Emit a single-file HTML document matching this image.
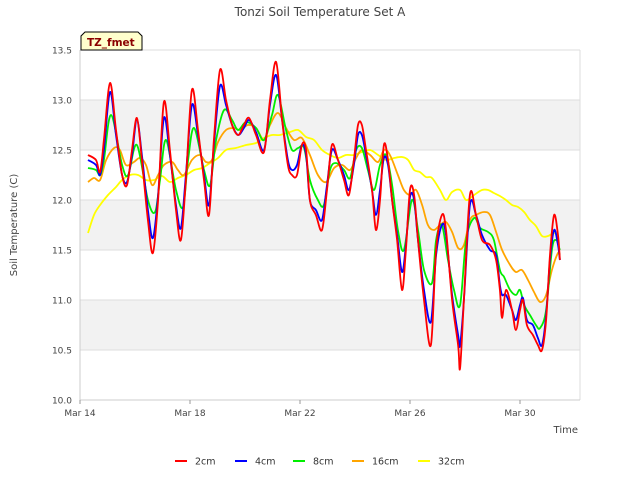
<!DOCTYPE html>
<html><head><meta charset="utf-8"><style>
body{margin:0;background:#fff;font-family:"Liberation Sans","DejaVu Sans",sans-serif}
svg text{font-family:"DejaVu Sans","Liberation Sans",sans-serif}
</style></head><body>
<svg id="chart" width="640" height="480" viewBox="0 0 640 480">
<text x="320" y="16" text-anchor="middle" font-size="12" fill="#444">Tonzi Soil Temperature Set A</text>
<g id="grid"></g>
<g id="axes"></g>
<g id="series"></g>
<g>
<path d="M81,50 L81,36 L85,32 L138,32 L142,36 L142,50 Z" fill="#ffffcc" stroke="#000" stroke-width="1"/>
<text x="87" y="46" font-size="10.5" font-weight="bold" fill="#8b0000">TZ_fmet</text>
</g>
<text transform="translate(17,225) rotate(-90)" text-anchor="middle" font-size="10" fill="#444">Soil Temperature (C)</text>
<text x="578" y="433" text-anchor="end" font-size="10" fill="#444">Time</text>
<g id="legend"></g>
</svg>
<script>
const xTickLabels=["Mar 14","Mar 18","Mar 22","Mar 26","Mar 30"];
const xTickDays=[0,4,8,12,16];
const yTicks=[10.0,10.5,11.0,11.5,12.0,12.5,13.0,13.5];
const seriesNames=["2cm","4cm","8cm","16cm","32cm"];
const seriesColors=["#ff0000","#0000ff","#00ee00","#ffa500","#ffff00"];
const t2=[0.29,0.58,0.73,0.87,1.09,1.31,1.53,1.71,1.89,2.07,2.25,2.47,2.65,2.84,3.05,3.27,3.49,3.67,3.85,4.07,4.29,4.51,4.69,4.87,5.09,5.31,5.53,5.75,5.96,6.15,6.4,6.69,6.91,7.13,7.35,7.56,7.71,7.89,8.07,8.22,8.36,8.58,8.8,8.98,9.16,9.38,9.6,9.78,9.96,10.11,10.25,10.4,10.62,10.76,10.91,11.05,11.2,11.35,11.53,11.71,11.85,12,12.15,12.29,12.51,12.76,12.95,13.16,13.31,13.53,13.75,13.82,13.96,14.18,14.4,14.62,14.91,15.13,15.27,15.35,15.49,15.71,15.85,16,16.11,16.25,16.47,16.65,16.8,16.95,17.09,17.24,17.38,17.45];
const v2=[12.45,12.4,12.28,12.6,13.17,12.7,12.25,12.15,12.5,12.82,12.4,11.8,11.47,12.0,12.98,12.5,11.9,11.6,12.2,13.1,12.7,12.2,11.85,12.6,13.3,13.0,12.75,12.65,12.75,12.82,12.65,12.48,13.0,13.38,12.8,12.35,12.25,12.25,12.55,12.5,12.0,11.85,11.7,12.1,12.55,12.4,12.2,12.05,12.4,12.75,12.75,12.5,12.1,11.7,12.0,12.55,12.4,12.0,11.6,11.1,11.5,12.1,12.05,11.6,11.0,10.55,11.5,11.85,11.7,11.0,10.55,10.32,11.0,12.05,11.85,11.6,11.55,11.4,11.1,10.82,11.1,10.9,10.7,10.9,11.0,10.75,10.65,10.55,10.5,10.8,11.45,11.85,11.65,11.4];
const t4=[0.29,0.58,0.73,0.87,1.09,1.31,1.53,1.71,1.89,2.07,2.25,2.47,2.65,2.84,3.05,3.27,3.49,3.67,3.85,4.07,4.29,4.51,4.69,4.87,5.09,5.31,5.53,5.75,5.96,6.15,6.4,6.69,6.91,7.13,7.35,7.56,7.71,7.89,8.07,8.22,8.36,8.58,8.8,8.98,9.16,9.38,9.6,9.78,9.96,10.11,10.25,10.4,10.62,10.76,10.91,11.05,11.2,11.35,11.53,11.71,11.85,12.0,12.15,12.29,12.51,12.76,12.95,13.16,13.31,13.53,13.75,13.82,13.96,14.18,14.4,14.62,14.91,15.13,15.27,15.35,15.49,15.71,15.85,16.0,16.11,16.25,16.47,16.65,16.8,16.95,17.09,17.24,17.38,17.45];
const v4=[12.4,12.35,12.25,12.5,13.08,12.65,12.25,12.18,12.45,12.8,12.45,11.9,11.62,12.05,12.82,12.45,11.95,11.72,12.25,12.95,12.65,12.25,11.95,12.55,13.14,12.95,12.75,12.65,12.72,12.8,12.68,12.5,12.95,13.25,12.8,12.4,12.3,12.35,12.55,12.45,12.0,11.9,11.8,12.15,12.5,12.4,12.25,12.1,12.35,12.65,12.65,12.45,12.1,11.85,12.1,12.42,12.35,12.0,11.65,11.28,11.55,12.03,12.0,11.6,11.1,10.78,11.45,11.75,11.65,11.05,10.65,10.55,11.0,11.95,11.85,11.65,11.5,11.45,11.15,11.05,11.05,10.9,10.8,10.95,11.02,10.8,10.75,10.62,10.55,10.85,11.4,11.7,11.55,11.4];
const t8=[0.29,0.58,0.73,0.87,1.13,1.53,1.75,2.07,2.47,2.73,2.91,3.13,3.49,3.75,3.93,4.15,4.51,4.73,4.95,5.24,5.53,5.75,6.04,6.4,6.69,6.98,7.2,7.49,7.71,7.93,8.15,8.36,8.65,8.87,9.09,9.31,9.6,9.82,10.04,10.25,10.47,10.69,10.91,11.13,11.35,11.56,11.78,12.07,12.29,12.51,12.8,12.95,13.16,13.38,13.6,13.82,14.04,14.33,14.55,14.84,15.05,15.27,15.42,15.64,15.85,16.0,16.15,16.36,16.58,16.73,16.95,17.16,17.31,17.45];
const v8=[12.32,12.3,12.25,12.4,12.85,12.35,12.25,12.55,12.0,11.88,12.2,12.6,12.1,11.93,12.4,12.72,12.3,12.15,12.6,12.9,12.8,12.7,12.78,12.72,12.6,12.85,13.05,12.7,12.5,12.52,12.52,12.2,12.0,11.95,12.3,12.37,12.3,12.22,12.5,12.52,12.3,12.1,12.35,12.45,12.15,11.7,11.5,12.0,11.7,11.3,11.17,11.6,11.75,11.4,11.1,10.95,11.6,11.82,11.72,11.68,11.6,11.3,11.23,11.1,11.05,11.1,10.95,10.85,10.75,10.72,10.9,11.5,11.6,11.5];
const t16=[0.29,0.51,0.73,0.95,1.24,1.45,1.67,1.96,2.18,2.4,2.62,2.84,3.05,3.35,3.56,3.78,4.07,4.36,4.58,4.8,5.02,5.31,5.6,5.82,6.11,6.4,6.69,6.91,7.2,7.49,7.78,8.07,8.36,8.65,8.95,9.24,9.53,9.82,10.04,10.25,10.55,10.84,11.05,11.27,11.56,11.78,12.0,12.22,12.44,12.65,12.87,13.09,13.31,13.53,13.75,13.96,14.18,14.4,14.69,14.91,15.13,15.35,15.64,15.85,16.07,16.29,16.51,16.73,16.95,17.16,17.38,17.45];
const v16=[12.18,12.22,12.2,12.4,12.52,12.5,12.35,12.38,12.42,12.35,12.15,12.25,12.35,12.38,12.3,12.25,12.4,12.45,12.38,12.4,12.58,12.7,12.72,12.7,12.75,12.72,12.6,12.75,12.87,12.72,12.6,12.62,12.45,12.25,12.18,12.32,12.35,12.3,12.42,12.5,12.45,12.38,12.5,12.45,12.25,12.1,12.05,12.1,11.95,11.75,11.7,11.75,11.78,11.68,11.52,11.55,11.8,11.85,11.88,11.85,11.68,11.5,11.35,11.28,11.3,11.2,11.08,10.98,11.05,11.3,11.47,11.45];
const t32=[0.29,0.51,0.73,1.02,1.31,1.53,1.82,2.11,2.4,2.69,2.98,3.27,3.56,3.85,4.15,4.44,4.73,5.02,5.31,5.67,6.04,6.4,6.69,6.98,7.27,7.64,7.93,8.22,8.51,8.8,9.09,9.38,9.67,9.96,10.25,10.55,10.84,11.13,11.42,11.71,11.93,12.15,12.36,12.58,12.8,13.09,13.31,13.53,13.82,14.04,14.33,14.62,14.84,15.05,15.27,15.49,15.71,15.93,16.15,16.36,16.58,16.8,17.02,17.24,17.38];
const v32=[11.67,11.85,11.95,12.05,12.13,12.2,12.25,12.25,12.2,12.2,12.24,12.18,12.22,12.25,12.3,12.32,12.37,12.42,12.5,12.52,12.55,12.57,12.62,12.65,12.65,12.68,12.7,12.63,12.6,12.5,12.45,12.42,12.45,12.45,12.48,12.5,12.45,12.4,12.42,12.43,12.4,12.3,12.28,12.23,12.22,12.1,12.0,12.08,12.1,12.0,12.05,12.1,12.1,12.07,12.04,12.0,11.95,11.93,11.88,11.8,11.74,11.64,11.64,11.67,11.64];

const NS="http://www.w3.org/2000/svg";
const L=80,R=580,T=50,B=400;
const xs=d=>L+d*27.5;
const ys=v=>B-(v-10)*(B-T)/3.5;
function mk(tag,attrs,parent){const e=document.createElementNS(NS,tag);for(const k in attrs)e.setAttribute(k,attrs[k]);parent.appendChild(e);return e;}
const grid=document.getElementById('grid'),axes=document.getElementById('axes'),ser=document.getElementById('series'),leg=document.getElementById('legend');
for(let i=0;i<yTicks.length-1;i++){
  if(i%2===1){const b=mk('rect',{x:L,y:ys(yTicks[i+1]),width:R-L,height:ys(yTicks[i])-ys(yTicks[i+1]),fill:'#f2f2f2'},grid);
  
  }
}
yTicks.forEach(v=>{
  const g=mk('line',{x1:L,x2:R,y1:ys(v),y2:ys(v),stroke:'#dddddd','stroke-width':1},grid);
  
  
  const t=mk('text',{x:L-8,y:ys(v)+3.5,'text-anchor':'end','font-size':9,fill:'#444'},axes);
  t.textContent=v.toFixed(1);
  
  
});
mk('line',{x1:L,x2:L,y1:T,y2:B,stroke:'#cccccc'},axes);
mk('line',{x1:R,x2:R,y1:T,y2:B,stroke:'#dddddd'},axes);
mk('line',{x1:L,x2:R,y1:B,y2:B,stroke:'#cccccc'},axes);
xTickDays.forEach((d,i)=>{
  mk('line',{x1:xs(d),x2:xs(d),y1:B,y2:B+4,stroke:'#999'},axes);
  const t=mk('text',{x:xs(d),y:B+16,'text-anchor':'middle','font-size':9,fill:'#444'},axes);
  t.textContent=xTickLabels[i];
  
  
});
function smoothPath(pts){
  let d='M'+pts[0][0].toFixed(1)+','+pts[0][1].toFixed(1);
  for(let i=0;i<pts.length-1;i++){
    const p0=pts[Math.max(0,i-1)],p1=pts[i],p2=pts[i+1],p3=pts[Math.min(pts.length-1,i+2)];
    const c1x=p1[0]+(p2[0]-p0[0])/6,c1y=p1[1]+(p2[1]-p0[1])/6;
    const c2x=p2[0]-(p3[0]-p1[0])/6,c2y=p2[1]-(p3[1]-p1[1])/6;
    d+='C'+c1x.toFixed(1)+','+c1y.toFixed(1)+' '+c2x.toFixed(1)+','+c2y.toFixed(1)+' '+p2[0].toFixed(1)+','+p2[1].toFixed(1);
  }
  return d;
}
const allT=[t2,t4,t8,t16,t32],allV=[v2,v4,v8,v16,v32];
[4,3,2,1,0].forEach(i=>{
  const tt=allT[i],vv=allV[i],n=Math.min(tt.length,vv.length);
  const pts=[];for(let k=0;k<n;k++)pts.push([xs(tt[k]),ys(vv[k])]);
  const p=mk('path',{d:smoothPath(pts),fill:'none',stroke:seriesColors[i],'stroke-width':1.8,'stroke-linejoin':'round'},ser);
  
  
});
const legX=[175,235,293,352,418];
seriesNames.forEach((nm,i)=>{
  const g=mk('g',{},leg);
  
  
  mk('line',{x1:legX[i],x2:legX[i]+12,y1:461,y2:461,stroke:seriesColors[i],'stroke-width':2},g);
  const t=mk('text',{x:legX[i]+20,y:464.5,'font-size':9.5,fill:'#333'},g);
  t.textContent=nm;
});
</script>
</body></html>
